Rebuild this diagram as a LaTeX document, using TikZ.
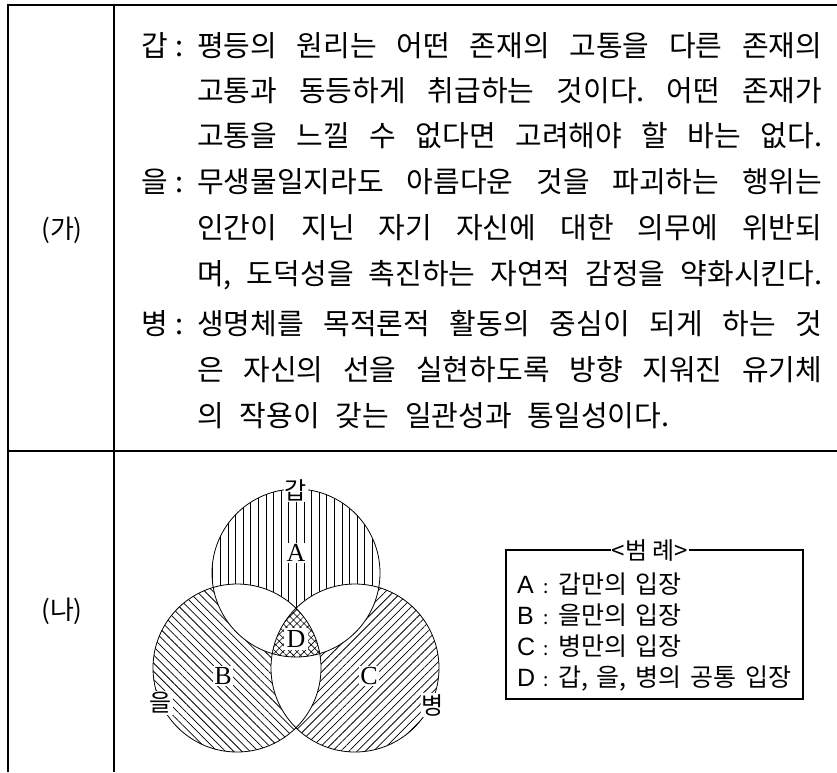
\documentclass[tikz,border=0pt]{standalone}
\usepackage{fontspec}
\newfontfamily\kr{Noto Sans CJK KR}
\newfontfamily\lsans{Liberation Sans}
\newfontfamily\lserif{Liberation Serif}
\usetikzlibrary{patterns.meta}
\frenchspacing
\newcommand\krbodyfont{\kr\fontsize{29}{32}\selectfont\frenchspacing\spaceskip=0.3em plus 3em\relax}
\newcommand\krlastfont{\kr\fontsize{29}{32}\selectfont\frenchspacing\spaceskip=0.55em\relax}
\newcommand\krlegfont{\kr\fontsize{25}{28}\selectfont\frenchspacing\spaceskip=0.35em\relax}
\newcommand\jline[1]{\hbox to 625pt{\krbodyfont #1}}
\tikzset{
  body/.style={font=\krbodyfont, inner sep=0pt, anchor=base west},
  lastbody/.style={font=\krlastfont, inner sep=0pt, anchor=base west},
  tag/.style={font=\kr\fontsize{29}{32}\selectfont, inner sep=0pt, anchor=base west},
  sect/.style={font=\kr\fontsize{26}{30}\selectfont, inner sep=0pt},
  frameline/.style={line width=1.3pt, black},
  venn/.style={line width=0.8pt},
  vlabel/.style={font=\lserif\fontsize{26}{28}\selectfont, fill=white, inner sep=1.5pt},
  vname/.style={font=\kr\fontsize{24}{26}\selectfont, fill=white, inner sep=1pt},
  legletter/.style={font=\lsans\fontsize{25}{28}\selectfont, inner sep=0pt, anchor=base west},
  legtext/.style={font=\krlegfont, inner sep=0pt, anchor=base west},
  legcolon/.style={font=\kr\fontsize{19}{24}\selectfont, inner sep=0pt, anchor=base},
}
\begin{document}
\begin{tikzpicture}[x=1pt,y=-1pt]
\useasboundingbox (0,0) rectangle (837,772);
% frame
\draw[frameline, line width=1.6pt] (7,5) -- (837,5);
\draw[frameline] (8,5) -- (8,772);
\draw[frameline] (114,5) -- (114,772);
\draw[frameline] (8,451) -- (837,451);
% section labels
\node[sect] (ga) at (62,230) {(가)};
\node[sect] (na) at (62,611) {(나)};
% statements
\node[tag] (t1) at (141,56) {갑};
\node[tag] (c1) at (175,56) {:};
\node[body] (l1) at (197,56) {\jline{평등의 원리는 어떤 존재의 고통을 다른 존재의}};
\node[body] (l2) at (197,101) {\jline{고통과 동등하게 취급하는 것이다. 어떤 존재가}};
\node[body] (l3) at (197,146) {\jline{고통을 느낄 수 없다면 고려해야 할 바는 없다.}};
\node[tag] (t2) at (141,192) {을};
\node[tag] (c2) at (175,192) {:};
\node[body] (l4) at (197,192) {\jline{무생물일지라도 아름다운 것을 파괴하는 행위는}};
\node[body] (l5) at (197,238) {\jline{인간이 지닌 자기 자신에 대한 의무에 위반되}};
\node[body] (l6) at (197,284) {\jline{며, 도덕성을 촉진하는 자연적 감정을 약화시킨다.}};
\node[tag] (t3) at (141,334) {병};
\node[tag] (c3) at (175,334) {:};
\node[body] (l7) at (197,334) {\jline{생명체를 목적론적 활동의 중심이 되게 하는 것}};
\node[body] (l8) at (197,380) {\jline{은 자신의 선을 실현하도록 방향 지워진 유기체}};
\node[lastbody] (l9) at (197,426) {의 작용이 갖는 일관성과 통일성이다.};
% Venn diagram
\coordinate (cA) at (296,573);
\coordinate (cB) at (237,668);
\coordinate (cC) at (355,668);
\begin{scope}
  \clip (cA) circle[radius=84pt];
  \fill[pattern={Lines[angle=90,distance=7.6pt,line width=0.75pt]}] (cA) circle[radius=84pt];
  \fill[white] (cB) circle[radius=84pt] (cC) circle[radius=84pt];
\end{scope}
\begin{scope}
  \clip (cB) circle[radius=84pt];
  \fill[pattern={Lines[angle=-45,distance=5.8pt,line width=0.75pt]}] (cB) circle[radius=84pt];
  \fill[white] (cA) circle[radius=84pt] (cC) circle[radius=84pt];
\end{scope}
\begin{scope}
  \clip (cC) circle[radius=84pt];
  \fill[pattern={Lines[angle=45,distance=5.8pt,line width=0.75pt]}] (cC) circle[radius=84pt];
  \fill[white] (cA) circle[radius=84pt] (cB) circle[radius=84pt];
\end{scope}
\begin{scope}
  \clip (cA) circle[radius=84pt];
  \clip (cB) circle[radius=84pt];
  \fill[pattern={Hatch[angle=45,distance=5pt,line width=0.6pt]}] (cC) circle[radius=84pt];
\end{scope}
\draw[venn] (cA) circle[radius=84pt];
\draw[venn] (cB) circle[radius=84pt];
\draw[venn] (cC) circle[radius=84pt];
\node[vname] (nA) at (296,490) {갑};
\node[vname] (nB) at (161,703) {을};
\node[vname] (nC) at (433,705) {병};
\node[vlabel] (lA) at (296,553) {A};
\node[vlabel] (lB) at (223,676) {B};
\node[vlabel] (lC) at (369,676) {C};
\node[vlabel, inner sep=2.5pt] (lD) at (296,639) {D};
% legend
\draw[line width=1.2pt] (506,550) rectangle (803,699);
\node[font=\kr\fontsize{24}{26}\selectfont, fill=white, inner sep=0.5pt] (leg) at (650,550) {<범 례>};
\node[legletter] (la) at (517,593) {A};
\node[legcolon] (ca) at (546,593) {:};
\node[legtext] (ta) at (558,593) {갑만의 입장};
\node[legletter] (lb) at (517,624) {B};
\node[legcolon] (cb) at (546,624) {:};
\node[legtext] (tb) at (558,624) {을만의 입장};
\node[legletter] (lc) at (517,655) {C};
\node[legcolon] (cc) at (546,655) {:};
\node[legtext] (tc) at (558,655) {병만의 입장};
\node[legletter] (ld) at (517,686) {D};
\node[legcolon] (cd) at (546,686) {:};
\node[legtext] (td) at (558,686) {갑, 을, 병의 공통 입장};
\end{tikzpicture}
\end{document}
